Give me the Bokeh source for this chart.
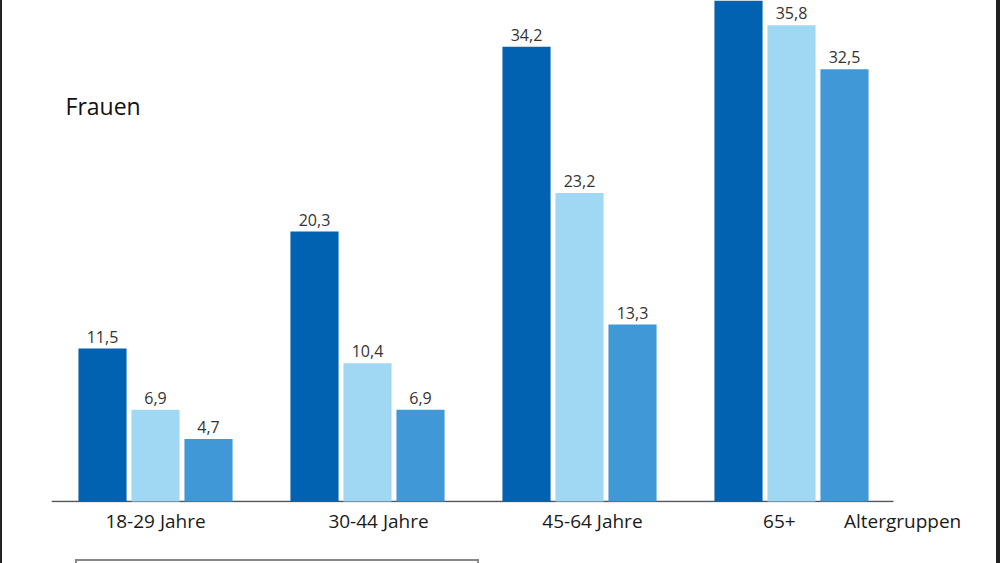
import numpy as np
from bokeh.plotting import figure
from bokeh.models import Range1d, FixedTicker, ColumnDataSource, LabelSet, Label
from bokeh.core.properties import value
from bokeh.embed import file_html
from bokeh.resources import INLINE

categories = ["18-29 Jahre", "30-44 Jahre", "45-64 Jahre", "65+"]
axis_title = "Altergruppen"
series_a = [11.5, 20.3, 34.2, 40.0]
series_b = [6.9, 10.4, 23.2, 35.8]
series_c = [4.7, 6.9, 13.3, 32.5]
colors = ["#0062B1", "#A0D7F3", "#4098D6"]
offsets = [-0.25, 0.0, 0.25]
# the original's category labels sit slightly off the group centres
label_shift = [0.0, 0.052, 0.061, -0.057]

FONT = "Open Sans"
YMAX = 37.67
XMIN, XBASE_END, XMAX = -0.4906, 3.481, 3.9387

css_bg = ("linear-gradient(#888,#888) 75px 559px / 404px 2px no-repeat, "
          "linear-gradient(#888,#888) 75px 559px / 2px 4px no-repeat, "
          "linear-gradient(#888,#888) 477px 559px / 2px 4px no-repeat")

p = figure(width=1000, height=563, output_backend="svg", toolbar_location=None,
           x_range=Range1d(XMIN, XMAX), y_range=Range1d(-0.075, YMAX),
           y_axis_location=None, min_border_left=51, min_border_right=10,
           min_border_top=0, min_border_bottom=61,
           styles={"box-shadow": "inset 2px 0 0 #222, inset -4px 0 0 #222",
                   "background": css_bg})
p.background_fill_alpha = 0
p.border_fill_alpha = 0
p.outline_line_color = None
p.grid.visible = False

# baseline (category axis line)
p.segment(x0=[XMIN], x1=[XBASE_END], y0=[0], y1=[0], line_color="#555555", line_width=1.5)

idx = np.arange(len(categories))
for vals, col, off in zip([series_a, series_b, series_c], colors, offsets):
    labs = [("%.1f" % v).replace(".", ",") if v < YMAX else "" for v in vals]
    src = ColumnDataSource(dict(x=idx + off, top=vals, lab=labs))
    p.vbar(x="x", top="top", bottom=0, width=0.227, source=src,
           fill_color=col, line_color=None)
    p.add_layout(LabelSet(x="x", y="top", text="lab", source=src, y_offset=6,
                          text_align="center", text_baseline="alphabetic",
                          text_font=value(FONT), text_font_size=value("16px"),
                          text_color="#333333"))

ticks = [round(i + s, 3) for i, s in zip(idx, label_shift)]
ov = {t: c for t, c in zip(ticks, categories)}
title_tick = 3.524
ov[title_tick] = axis_title
ax = p.xaxis[0]
ax.ticker = FixedTicker(ticks=ticks + [title_tick])
ax.major_label_overrides = ov
ax.major_tick_line_color = None
ax.minor_tick_line_color = None
ax.major_tick_out = 0
ax.major_tick_in = 0
ax.axis_line_color = None
ax.major_label_text_font = FONT
ax.major_label_text_font_size = "19px"
ax.major_label_text_color = "#1a1a1a"
ax.major_label_standoff = 5

p.add_layout(Label(x=-0.4245, y=29.7, text="Frauen", text_font=FONT,
                   text_font_size="23px", text_color="#111111",
                   text_baseline="middle", text_align="left"))

open("out.html", "w").write(file_html(p, INLINE))
